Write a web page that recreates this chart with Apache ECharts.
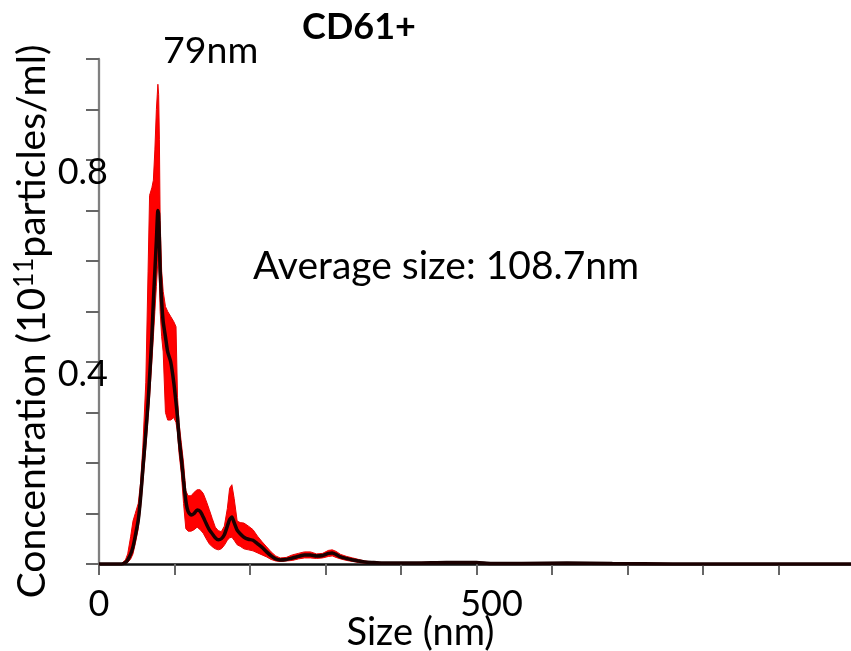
<!DOCTYPE html>
<html>
<head>
<meta charset="utf-8">
<script src="https://cdn.jsdelivr.net/npm/echarts@6/dist/echarts.min.js"></script>
<style>
  html, body { margin: 0; padding: 0; background: #fff; }
  #chart { width: 851px; height: 651px; }
</style>
</head>
<body>
<div id="chart"></div>
<script>
// particle size (nm)
const sizes = [0, 20, 30, 35, 38, 42, 45, 48, 52, 55, 58, 62, 65, 67, 70, 72, 74, 76, 78, 79,
  80, 81, 83, 85, 88, 91, 95, 99, 102, 104, 106, 109, 112, 115, 118, 122, 126, 130, 134, 138,
  142, 146, 150, 154, 158, 162, 166, 170, 173, 176, 179, 183, 187, 192, 198, 204, 210, 216, 222, 228,
  234, 240, 248, 256, 264, 272, 280, 288, 296, 304, 309, 314, 320, 328, 336, 344, 352, 362, 375, 390,
  420, 460, 500, 520, 560, 620, 680, 760, 860, 1000]

// concentration, 10^11 particles/ml
const meanConc = [0, 0, 0, 0.003, 0.008, 0.02, 0.034, 0.055, 0.087, 0.13, 0.186, 0.26, 0.32, 0.37, 0.45, 0.52, 0.58, 0.64, 0.70, 0.69,
  0.64, 0.58, 0.52, 0.48, 0.45, 0.42, 0.40, 0.36, 0.32, 0.29, 0.25, 0.21, 0.165, 0.125, 0.104, 0.097, 0.1, 0.107, 0.104, 0.093,
  0.08, 0.068, 0.06, 0.052, 0.048, 0.05, 0.058, 0.075, 0.088, 0.093, 0.082, 0.067, 0.06, 0.053, 0.049, 0.047, 0.04, 0.033, 0.024, 0.016,
  0.01, 0.008, 0.009, 0.012, 0.015, 0.018, 0.018, 0.016, 0.017, 0.021, 0.022, 0.019, 0.014, 0.011, 0.008, 0.006, 0.004, 0.003, 0.002, 0.002,
  0.002, 0.003, 0.003, 0.001, 0.001, 0.002, 0.001, 0, 0, 0]

const upperConc = [0, 0, 0.001, 0.008, 0.02, 0.055, 0.085, 0.1, 0.12, 0.16, 0.23, 0.36, 0.58, 0.73, 0.745, 0.76, 0.82, 0.9, 0.95, 0.93,
  0.84, 0.68, 0.58, 0.54, 0.51, 0.5, 0.49, 0.48, 0.47, 0.33, 0.28, 0.24, 0.2, 0.145, 0.135, 0.135, 0.142, 0.147, 0.147, 0.14,
  0.125, 0.108, 0.09, 0.073, 0.066, 0.064, 0.075, 0.11, 0.15, 0.157, 0.13, 0.085, 0.082, 0.081, 0.075, 0.068, 0.055, 0.044, 0.034, 0.024,
  0.016, 0.012, 0.013, 0.018, 0.021, 0.024, 0.024, 0.02, 0.021, 0.027, 0.028, 0.025, 0.019, 0.015, 0.012, 0.009, 0.006, 0.004, 0.003, 0.003,
  0.003, 0.004, 0.004, 0.002, 0.002, 0.003, 0.002, 0.001, 0, 0]

const lowerConc = [0, 0, 0, 0.001, 0.003, 0.01, 0.02, 0.04, 0.07, 0.11, 0.16, 0.23, 0.29, 0.33, 0.4, 0.45, 0.5, 0.55, 0.6, 0.6,
  0.56, 0.5, 0.45, 0.42, 0.3, 0.285, 0.285, 0.29, 0.28, 0.26, 0.22, 0.18, 0.12, 0.07, 0.065, 0.065, 0.068, 0.073, 0.068, 0.061,
  0.05, 0.04, 0.034, 0.03, 0.028, 0.03, 0.037, 0.047, 0.052, 0.053, 0.047, 0.038, 0.035, 0.03, 0.028, 0.026, 0.022, 0.018, 0.014, 0.009,
  0.006, 0.005, 0.006, 0.007, 0.01, 0.012, 0.012, 0.011, 0.012, 0.015, 0.016, 0.013, 0.01, 0.007, 0.005, 0.003, 0.002, 0.001, 0.001, 0.001,
  0.001, 0.002, 0.002, 0, 0, 0.001, 0, 0, 0, 0]

const xLabels = [0, 500]
const yLabels = [0.4, 0.8]

const font = 'Lato'

const chart = echarts.init(document.getElementById('chart'))

// band between lower and upper, drawn as one polygon through the axis scales
function renderBand(params, api) {
  if (params.dataIndex !== 0) return
  const pts = []
  for (let i = 0; i < sizes.length; i++) pts.push(api.coord([sizes[i], upperConc[i]]))
  for (let i = sizes.length - 1; i >= 0; i--) pts.push(api.coord([sizes[i], lowerConc[i]]))
  return {
    type: 'polygon',
    shape: { points: pts },
    style: { fill: '#ff0000', stroke: '#e80000', lineWidth: 1 },
  }
}

const option = {
  animation: false,
  title: {
    text: 'CD61+',
    left: 354,
    top: 4,
    textAlign: 'center',
    textStyle: { fontFamily: font, fontSize: 36, fontWeight: 'bold', color: '#000' },
  },
  grid: { left: 99, right: -3, top: 59, bottom: 87, outerBoundsMode: 'none' },
  xAxis: {
    type: 'value',
    min: 0,
    max: 1000,
    interval: 100,
    name: 'Size (nm)',
    nameLocation: 'middle',
    nameGap: 50,
    nameMoveOverlap: false,
    nameTextStyle: { fontFamily: font, fontSize: 38, color: '#000', padding: [0, 112, 0, 0] },
    axisLine: { lineStyle: { color: '#111', width: 2.5 } },
    axisTick: { length: 11, lineStyle: { color: '#666', width: 2 } },
    splitLine: { show: false },
    axisLabel: {
      margin: 22,
      fontFamily: font,
      fontSize: 36,
      color: '#000',
      formatter: (v) => {
        if (!xLabels.includes(v)) return ''
        return v === 500 ? '{r|500}' : String(v)
      },
      rich: { r: { fontFamily: font, fontSize: 36, color: '#000', padding: [0, 0, 0, 30] } },
    },
  },
  yAxis: {
    type: 'value',
    min: 0,
    max: 1.0,
    interval: 0.1,
    name: '{a|Concentration (10}{s|11}{a|particles/ml)}',
    nameLocation: 'middle',
    nameRotate: 90,
    nameGap: 47,
    nameMoveOverlap: false,
    nameTextStyle: {
      padding: [0, 20, 0, 0],
      rich: {
        a: { fontFamily: font, fontSize: 39, color: '#000' },
        s: { fontFamily: font, fontSize: 26, color: '#000', verticalAlign: 'top', padding: [0, 0, 14, 0] },
      },
    },
    axisLine: { show: true, lineStyle: { color: '#808080', width: 2.3 } },
    axisTick: { show: true, length: 13, lineStyle: { color: '#666', width: 2 } },
    splitLine: { show: false },
    axisLabel: {
      margin: -9,
      fontFamily: font,
      fontSize: 36,
      color: '#000',
      formatter: (v) => {
        const r = Math.round(v * 10) / 10
        return yLabels.includes(r) ? '{v|' + r + '}' : ''
      },
      rich: { v: { fontFamily: font, fontSize: 36, color: '#000', padding: [24, 0, 0, 0] } },
    },
  },
  graphic: [
    {
      type: 'text',
      left: 163,
      top: 32,
      style: { text: '79nm', fontFamily: font, fontSize: 37.5, fill: '#000' },
    },
    {
      type: 'text',
      left: 253,
      top: 247,
      style: { text: 'Average size: 108.7nm', fontFamily: font, fontSize: 39, fill: '#000' },
    },
  ],
  series: [
    {
      name: 'band',
      type: 'custom',
      renderItem: renderBand,
      data: sizes.map((s, i) => [s, upperConc[i]]),
      silent: true,
      z: 3,
    },
    {
      name: 'mean',
      type: 'line',
      data: sizes.map((s, i) => [s, meanConc[i]]),
      symbol: 'none',
      smooth: 0.2,
      lineStyle: { width: 3.5, color: '#1a0000' },
      z: 4,
    },
  ],
}

chart.setOption(option)
</script>
</body>
</html>
